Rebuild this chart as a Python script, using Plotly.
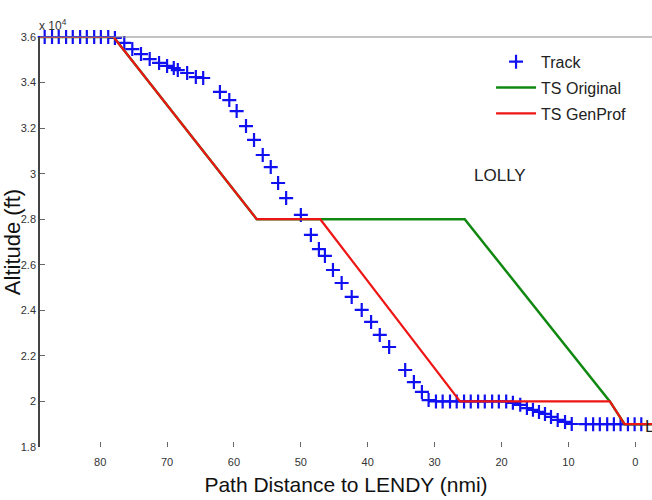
import plotly.graph_objects as go

# ---- data ----
track_dist = [88.3, 87.2, 86.2, 85.1, 84.1, 83.0, 82.0, 80.9, 79.9, 78.8,
              77.8, 76.4, 75.2, 73.9, 72.6, 71.2, 70.0, 69.0, 68.4, 67.0,
              65.7, 64.6, 62.1, 60.7, 59.6, 58.2, 57.0, 55.7, 54.5, 53.4,
              52.2, 50.0, 48.5, 47.3, 46.4, 45.2, 43.9, 42.4, 40.9, 39.5,
              38.2, 36.8, 34.4, 33.1, 31.9, 30.9, 29.8, 28.8, 27.7, 26.7,
              25.6, 24.6, 23.5, 22.5, 21.4, 20.4, 19.3, 18.3, 17.2, 16.2,
              15.3, 14.4, 13.5, 12.6, 11.6, 10.5, 9.5, 7.4, 6.3, 5.3,
              4.2, 3.2, 2.2, 1.1, 0.1, -0.9]
track_alt = [36000, 36000, 36000, 36000, 36000, 36000, 36000, 36000, 36000, 36000,
             35960, 35740, 35470, 35250, 35030, 34860, 34730, 34640, 34550, 34420,
             34240, 34200, 33590, 33230, 32750, 32090, 31480, 30820, 30290, 29590,
             28930, 28190, 27310, 26690, 26390, 25770, 25200, 24590, 24020, 23490,
             22920, 22390, 21380, 20850, 20420, 20060, 20000, 20000, 20000, 20000,
             20000, 20000, 20000, 20000, 20000, 20000, 20000, 19940, 19850, 19710,
             19630, 19540, 19450, 19320, 19190, 19100, 19010, 19000, 19000, 19000,
             19000, 19000, 19000, 19000, 19000, 19000]

orig_dist = [90, 78, 56.6, 25.5, 3.8, 1.6, -3]
orig_alt = [36000, 36000, 28000, 28000, 20000, 19000, 19000]

gen_dist = [90, 78, 56.6, 47.1, 26.2, 3.8, 1.6, -3]
gen_alt = [36000, 36000, 28000, 28000, 20000, 20000, 19000, 19000]

x_ticks = [80, 70, 60, 50, 40, 30, 20, 10, 0]
y_ticks = [36000, 34000, 32000, 30000, 28000, 26000, 24000, 22000, 20000, 18000]
y_ticktext = ["3.6", "3.4", "3.2", "3", "2.8", "2.6", "2.4", "2.2", "2", "1.8"]

FONT = "Liberation Sans, Arial, sans-serif"

fig = go.Figure()
fig.add_trace(go.Scatter(
    x=track_dist, y=track_alt, mode="markers", name="Track", legendgroup="a",
    marker=dict(symbol="cross-thin", size=10, color="#1010f0",
                line=dict(width=2.2, color="#1010f0")),
    cliponaxis=False))
fig.add_trace(go.Scatter(
    x=orig_dist, y=orig_alt, mode="lines", name="TS Original", legendgroup="b",
    line=dict(color="#118811", width=2.5)))
fig.add_trace(go.Scatter(
    x=gen_dist, y=gen_alt, mode="lines", name="TS GenProf", legendgroup="c",
    line=dict(color="#ee1515", width=2.2)))

fig.update_layout(
    width=652, height=500,
    margin=dict(l=40, r=0, t=37, b=53),
    paper_bgcolor="white", plot_bgcolor="white",
    font=dict(family=FONT, color="#222"),
    showlegend=True,
    legend=dict(x=0.737, y=0.981, xanchor="left", yanchor="top",
                bgcolor="rgba(255,255,255,0)", font=dict(size=16, color="#222"),
                traceorder="grouped", tracegroupgap=2, itemwidth=40),
    xaxis=dict(range=[89, -2.5], tickmode="array", tickvals=x_ticks,
               ticks="inside", ticklen=5, tickcolor="#666", showgrid=False,
               zeroline=False, showline=False,
               tickfont=dict(size=11, color="#333"), ticklabelstandoff=7,
               title=dict(text="Path Distance to LENDY (nmi)",
                          font=dict(size=21, color="#111"), standoff=10)),
    yaxis=dict(range=[18000, 36000], tickmode="array", tickvals=y_ticks,
               ticktext=y_ticktext, ticks="inside", ticklen=5, tickcolor="#666",
               showgrid=False, zeroline=False, showline=True, linecolor="#444",
               linewidth=1.5, tickfont=dict(size=11, color="#333"),
               title=dict(text="Altitude (ft)", font=dict(size=22, color="#111"),
                          standoff=3)),
    shapes=[dict(type="line", xref="paper", yref="paper", x0=0, x1=1, y0=1, y1=1,
                 line=dict(color="#888", width=1.2))],
    annotations=[
        dict(text="x 10<sup>4</sup>", xref="paper", yref="paper", x=-0.005, y=1.0,
             xanchor="left", yanchor="bottom", showarrow=False,
             font=dict(size=12, color="#333"), yshift=2),
        dict(text="LOLLY", x=20.2, y=29900, showarrow=False,
             font=dict(size=17, color="#222")),
        dict(text="LENDY", x=-1.1, y=18880, xanchor="left", showarrow=False,
             font=dict(size=17, color="#222")),
    ],
)

fig.write_html("out.html")
